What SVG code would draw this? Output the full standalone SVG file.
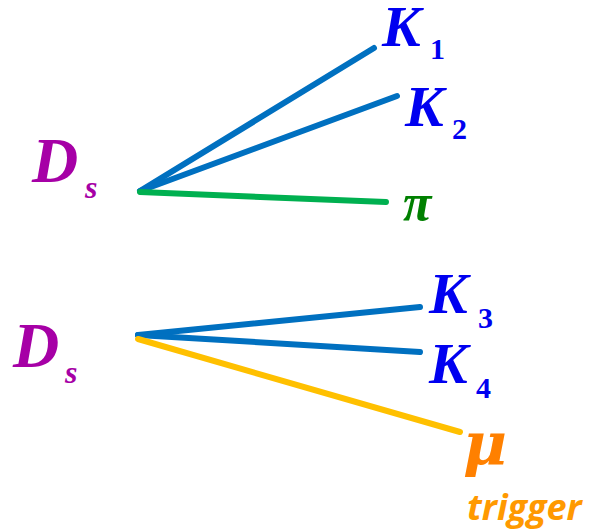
<svg xmlns="http://www.w3.org/2000/svg" width="594" height="531" viewBox="0 0 594 531">
<style>
.ser{font-family:"Liberation Serif","Times New Roman",serif;font-weight:bold}
.it{font-style:italic}
.d{fill:#A600A6}
.k{fill:#0000F0}
.ln{stroke-width:6;stroke-linecap:round;fill:none}
.b{stroke:#0070C0}
.g{stroke:#00B050}
.y{stroke:#FFC000}
</style>
<rect width="594" height="531" fill="#fff"/>
<g id="connectors">
<line class="ln b" x1="140" y1="191" x2="374" y2="48"/>
<line class="ln b" x1="140" y1="191" x2="397" y2="96"/>
<line class="ln g" x1="140" y1="192" x2="386" y2="202"/>
<line class="ln b" x1="138" y1="335" x2="420" y2="307"/>
<line class="ln b" x1="138" y1="335" x2="420" y2="352"/>
<line class="ln y" x1="138" y1="339" x2="460" y2="432"/>
</g>
<g id="Ds1"><text class="ser it d" x="32" y="182" font-size="64">D</text><text class="ser it d" x="85" y="198" font-size="32">s</text></g>
<g id="K1"><text class="ser it k" x="382" y="46" font-size="58">K</text><text class="ser k" x="430" y="59" font-size="30">1</text></g>
<g id="K2"><text class="ser it k" x="405" y="126" font-size="58">K</text><text class="ser k" x="452" y="139" font-size="30">2</text></g>
<g id="pi"><text class="ser it" fill="#008000" x="403" y="220" font-size="52">π</text></g>
<g id="Ds2"><text class="ser it d" x="13" y="367" font-size="64">D</text><text class="ser it d" x="65" y="383" font-size="32">s</text></g>
<g id="K3"><text class="ser it k" x="429" y="313" font-size="58">K</text><text class="ser k" x="478" y="328" font-size="30">3</text></g>
<g id="K4"><text class="ser it k" x="429" y="383" font-size="58">K</text><text class="ser k" x="476" y="398" font-size="30">4</text></g>
<g id="mu"><text font-family="DejaVu Serif, serif" font-weight="bold" font-style="italic" fill="#FF8000" x="463" y="465" font-size="60">μ</text><text font-family="Open Sans, sans-serif" font-weight="bold" font-style="italic" fill="#FF9900" x="467" y="520" font-size="36">trigger</text></g>
</svg>
